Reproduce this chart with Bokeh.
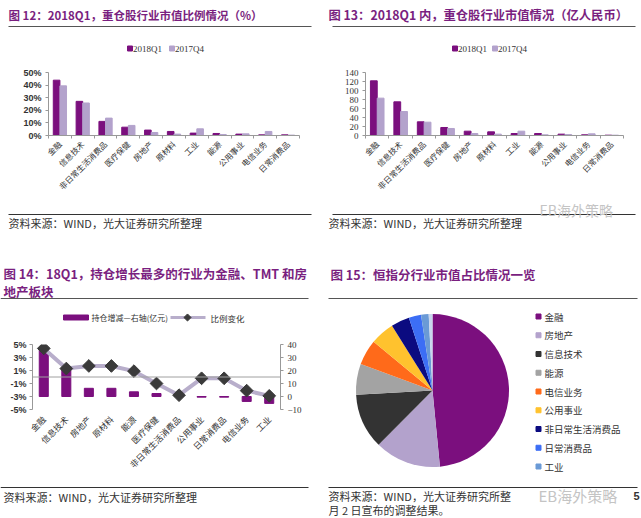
import math
import numpy as np
from bokeh.plotting import figure
from bokeh.layouts import row, column
from bokeh.models import Range1d, LinearAxis, FixedTicker, PrintfTickFormatter, Span
from bokeh.embed import file_html
from bokeh.resources import INLINE
from bokeh.core.properties import value

# ---------------- data ----------------
industries_a = ["金融", "信息技术", "非日常生活消费品", "医疗保健", "房地产", "原材料",
                "工业", "能源", "公用事业", "电信业务", "日常消费品"]
share_2018q1 = [43.9, 27.1, 11.2, 6.6, 4.3, 3.2, 1.9, 1.6, 1.1, 0.5, 0.5]
share_2017q4 = [39.4, 25.8, 13.8, 8.0, 2.4, 1.1, 5.3, 0.8, 1.3, 3.2, 0.3]
share_ticks = [0, 10, 20, 30, 40, 50]

mv_2018q1 = [121.5, 74.8, 30.4, 17.8, 9.6, 8.1, 4.4, 4.4, 3.0, 1.5, 0.7]
mv_2017q4 = [83.0, 53.3, 29.6, 15.6, 4.4, 3.0, 9.6, 1.5, 2.2, 3.7, 0.7]
mv_ticks = [0, 20, 40, 60, 80, 100, 120, 140]

industries_c = ["金融", "信息技术", "房地产", "原材料", "能源", "医疗保健",
                "非日常生活消费品", "公用事业", "日常消费品", "电信业务", "工业"]
holding_change = [37.0, 22.0, 6.3, 6.3, 3.6, 2.3, 0.2, -0.5, -0.5, -3.8, -5.3]
ratio_change = [4.4, 1.3, 1.7, 1.7, 0.9, -1.0, -2.8, -0.2, -0.2, -2.1, -2.9]
ratio_ticks = [-5, -3, -1, 1, 3, 5]
amount_ticks = [-10, 0, 10, 20, 30, 40]

hsi_sectors = ["金融", "房地产", "信息技术", "能源", "电信业务", "公用事业",
               "非日常生活消费品", "日常消费品", "工业", "其他"]
hsi_share = [48.5, 14.0, 11.7, 6.5, 5.4, 5.1, 3.9, 2.6, 1.6, 0.8]
hsi_colors = ["#7B0F7E", "#B3A2CC", "#333333", "#A3A3A3", "#FF6A1A", "#FFC22E",
              "#0B0B80", "#3C6EF5", "#6A9AD6", "#C9D6EE"]
hsi_legend_count = 9

# ---------------- style ----------------
TITLE_COLOR = "#7A1F80"
Q1_COLOR = "#7B0F7E"
Q4_COLOR = "#B3A2CC"
CJK = "Noto Sans CJK SC"
SANS = "Liberation Sans"
SERIF = "Liberation Serif"
AXIS_COLOR = "#999999"
SOURCE = "资料来源：WIND，光大证券研究所整理"


def canvas(w, h):
    p = figure(width=w, height=h, x_range=Range1d(0, w), y_range=Range1d(h, 0),
               output_backend="svg", toolbar_location=None,
               x_axis_location=None, y_axis_location=None,
               min_border=0, min_border_left=0, min_border_right=0,
               min_border_top=0, min_border_bottom=0, frame_align=False)
    p.grid.visible = False
    p.outline_line_color = None
    return p


def txt(p, x, y, s, size, color="#333333", font=CJK, bold=False, align="left"):
    p.text(x=[x], y=[y], text=[s], text_font=value(font), text_font_size=size,
           text_font_style="bold" if bold else "normal", text_color=color,
           text_baseline="middle", text_align=align)


def hline(p, x0, x1, y, color="#555555", width=1.2):
    p.segment(x0=[x0], y0=[y], x1=[x1], y1=[y], line_color=color, line_width=width)


def bar_chart(w, h, left, right, top, bottom, cats, s1, s2, ticks, fmt, tick_font, tick_bold):
    n = len(cats)
    p = figure(width=w, height=h, x_range=Range1d(-0.5, n - 0.5),
               y_range=Range1d(ticks[0], ticks[-1]),
               output_backend="svg", toolbar_location=None,
               min_border_left=left, min_border_right=right,
               min_border_top=top, min_border_bottom=bottom, frame_align=False)
    p.grid.visible = False
    p.outline_line_color = None
    idx = np.arange(n)
    p.vbar(x=idx - 0.145, top=s1, width=0.29, color=Q1_COLOR)
    p.vbar(x=idx + 0.145, top=s2, width=0.29, color=Q4_COLOR)
    xa = p.xaxis[0]
    xa.ticker = FixedTicker(ticks=list(range(n)), minor_ticks=[i - 0.5 for i in range(n + 1)])
    xa.major_label_overrides = {i: c for i, c in enumerate(cats)}
    xa.major_label_orientation = math.pi / 4
    xa.major_label_text_font = CJK
    xa.major_label_text_font_size = "8px"
    xa.major_label_text_color = "#333333"
    xa.major_label_standoff = 4
    xa.major_tick_out = 0
    xa.major_tick_in = 0
    xa.minor_tick_out = 3
    xa.minor_tick_in = 0
    xa.minor_tick_line_color = AXIS_COLOR
    xa.axis_line_color = AXIS_COLOR
    ya = p.yaxis[0]
    ya.ticker = FixedTicker(ticks=ticks)
    ya.formatter = PrintfTickFormatter(format=fmt)
    ya.major_label_text_font = tick_font
    ya.major_label_text_font_size = "9px"
    ya.major_label_text_font_style = "bold" if tick_bold else "normal"
    ya.major_label_text_color = "#333333"
    ya.major_tick_out = 3
    ya.major_tick_in = 0
    ya.major_label_standoff = 4
    ya.axis_line_color = AXIS_COLOR
    ya.major_tick_line_color = AXIS_COLOR
    return p


# ---------------- panel 12 (top-left) ----------------
h12 = canvas(320, 62)
txt(h12, 8, 14, "图 12：2018Q1，重仓股行业市值比例情况（%）", "11.5px", TITLE_COLOR, bold=True)
hline(h12, 8, 311, 26)
h12.scatter(x=[129.5], y=[48], marker="square", size=5, color=Q1_COLOR)
txt(h12, 132.5, 48, "2018Q1", "9px", "#333333", font=SERIF)
h12.scatter(x=[171.5], y=[48], marker="square", size=5, color=Q4_COLOR)
txt(h12, 174.5, 48, "2017Q4", "9px", "#333333", font=SERIF)

c12 = bar_chart(320, 136, 48, 21, 10, 63, industries_a, share_2018q1, share_2017q4,
                share_ticks, "%d%%", SANS, True)

f12 = canvas(320, 61)
hline(f12, 8, 311, 16, "#333333", 1.2)
txt(f12, 8, 24, SOURCE, "11px", "#333333")

# ---------------- panel 13 (top-right) ----------------
h13 = canvas(321, 62)
txt(h13, 8, 14, "图 13：2018Q1 内，重仓股行业市值情况（亿人民币）", "12.3px", TITLE_COLOR, bold=True)
hline(h13, 12, 315, 26)
h13.scatter(x=[134.5], y=[48], marker="square", size=5, color=Q1_COLOR)
txt(h13, 137.5, 48, "2018Q1", "9px", "#333333", font=SERIF)
h13.scatter(x=[174.5], y=[48], marker="square", size=5, color=Q4_COLOR)
txt(h13, 177.5, 48, "2017Q4", "9px", "#333333", font=SERIF)

c13 = bar_chart(321, 136, 45, 18, 10, 63, industries_a, mv_2018q1, mv_2017q4,
                mv_ticks, "%d", SERIF, False)

f13 = canvas(321, 61)
hline(f13, 12, 315, 16, "#333333", 1.2)
txt(f13, 8, 24, SOURCE, "11px", "#333333")
txt(f13, 219, 11, "EB海外策略", "14px", "#C4C4C4")

# ---------------- panel 14 (bottom-left) ----------------
h14 = canvas(320, 71)
txt(h14, 3, 14, "图 14：18Q1，持仓增长最多的行业为金融、TMT 和房", "12.5px", TITLE_COLOR, bold=True)
txt(h14, 3, 32, "地产板块", "12.5px", TITLE_COLOR, bold=True)
hline(h14, 0, 308, 39)
h14.quad(left=[63], right=[88], top=[55.5], bottom=[60.5], color=Q1_COLOR)
txt(h14, 91, 58, "持仓增减—右轴(亿元)", "8px", "#333333")
h14.segment(x0=[170], y0=[58], x1=[205], y1=[58], line_color="#B8AECB", line_width=3)
h14.scatter(x=[187], y=[58], marker="square", angle=math.pi / 4, size=5, color="#3A3A3A")
txt(h14, 210, 58, "比例变化", "8.5px", "#333333")

n3 = len(industries_c)
idx3 = np.arange(n3)
c14 = figure(width=320, height=150, x_range=Range1d(-0.5, n3 - 0.5),
             y_range=Range1d(ratio_ticks[0], ratio_ticks[-1]),
             output_backend="svg", toolbar_location=None,
             min_border_left=32, min_border_right=40, min_border_top=14, min_border_bottom=71,
             frame_align=False)
c14.grid.visible = False
c14.outline_line_color = None
c14.extra_y_ranges = {"amt": Range1d(amount_ticks[0], amount_ticks[-1])}
c14.add_layout(Span(location=0, dimension="width", line_color="#A0A0A0", line_width=1))
c14.vbar(x=idx3, top=holding_change, bottom=0, width=0.4, color=Q1_COLOR, y_range_name="amt")
c14.line(idx3, ratio_change, line_color="#B8AECB", line_width=4)
c14.scatter(idx3, ratio_change, marker="square", angle=math.pi / 4, size=9, color="#3A3A3A")
xa = c14.xaxis[0]
xa.ticker = FixedTicker(ticks=list(range(n3)))
xa.major_label_overrides = {i: c for i, c in enumerate(industries_c)}
xa.major_label_orientation = math.pi / 4
xa.major_label_text_font = CJK
xa.major_label_text_font_size = "8.5px"
xa.major_label_text_color = "#333333"
xa.major_label_standoff = 8
xa.major_tick_out = 0
xa.major_tick_in = 0
xa.axis_line_color = None
ya = c14.yaxis[0]
ya.ticker = FixedTicker(ticks=ratio_ticks)
ya.formatter = PrintfTickFormatter(format="%d%%")
ya.major_label_text_font = SANS
ya.major_label_text_font_style = "bold"
ya.major_label_text_font_size = "9px"
ya.major_label_text_color = "#333333"
ya.major_tick_out = 3
ya.major_tick_in = 0
ya.major_label_standoff = 3
ya.axis_line_color = AXIS_COLOR
ya.major_tick_line_color = AXIS_COLOR
ra = LinearAxis(y_range_name="amt", ticker=FixedTicker(ticks=amount_ticks))
ra.major_label_text_font = SERIF
ra.major_label_text_font_size = "9px"
ra.major_label_text_color = "#333333"
ra.major_tick_out = 3
ra.major_tick_in = 0
ra.major_label_standoff = 4
ra.axis_line_color = AXIS_COLOR
ra.major_tick_line_color = AXIS_COLOR
c14.add_layout(ra, "right")

f14 = canvas(320, 38)
hline(f14, 0, 308, 7, "#333333", 1.2)
txt(f14, 3, 16, SOURCE, "11px", "#333333")

# ---------------- panel 15 (bottom-right) ----------------
h15 = canvas(321, 46)
txt(h15, 10, 15, "图 15：恒指分行业市值占比情况一览", "12.5px", TITLE_COLOR, bold=True)
hline(h15, 8, 317, 39)

c15 = figure(width=321, height=175, x_range=Range1d(-112, 209), y_range=Range1d(-90, 85),
             output_backend="svg", toolbar_location=None,
             x_axis_location=None, y_axis_location=None,
             min_border=0, min_border_left=0, min_border_right=0,
             min_border_top=0, min_border_bottom=0, frame_align=False)
c15.grid.visible = False
c15.outline_line_color = None
frac = np.array(hsi_share) / np.sum(hsi_share)
cum = np.concatenate([[0.0], np.cumsum(frac)])
starts = math.pi / 2 - 2 * math.pi * cum[:-1]
ends = math.pi / 2 - 2 * math.pi * cum[1:]
c15.wedge(x=0, y=0, radius=76.5, start_angle=starts, end_angle=ends,
          direction="clock", fill_color=hsi_colors, line_color=None)
leg_y = [74 - 18.75 * i for i in range(hsi_legend_count)]
c15.scatter(x=[106] * hsi_legend_count, y=leg_y, marker="square", size=5,
            color=hsi_colors[:hsi_legend_count])
c15.text(x=[112] * hsi_legend_count, y=leg_y, text=hsi_sectors[:hsi_legend_count],
         text_font=value(CJK), text_font_size="9.5px", text_color="#333333",
         text_baseline="middle", text_align="left")

f15 = canvas(321, 38)
hline(f15, 8, 317, 7, "#333333", 1.2)
txt(f15, 8, 15, "资料来源：WIND，光大证券研究所整", "11px", "#333333")
txt(f15, 218, 15, "EB海外策略", "15px", "#C4C4C4")
txt(f15, 313, 15, "5", "11px", "#333333", font=SANS, bold=True)
txt(f15, 8, 29, "月 2 日宣布的调整结果。", "11px", "#333333")

layout = column(
    row(column(h12, c12, f12), column(h13, c13, f13)),
    row(column(h14, c14, f14), column(h15, c15, f15)),
)

open("out.html", "w").write(file_html(layout, INLINE, "charts"))
